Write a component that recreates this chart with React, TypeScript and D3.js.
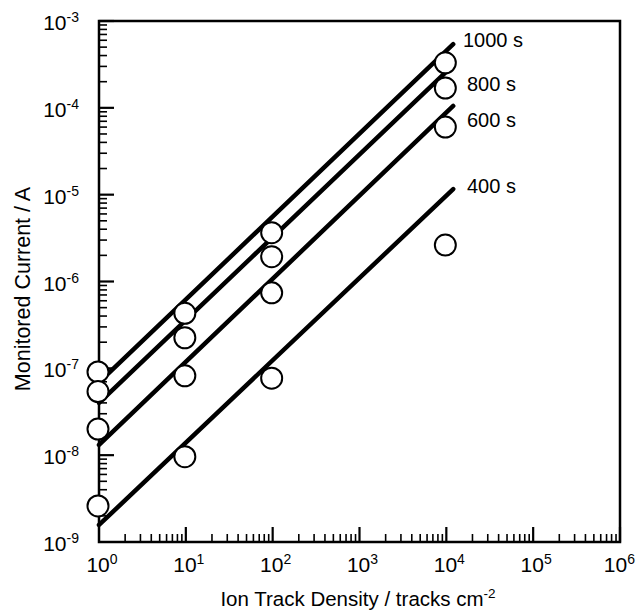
import React, { useRef, useEffect } from "react";
import * as d3 from "d3";

// measured points: ion track density (tracks cm-2) vs monitored current (A)
const densities = [1, 10, 100, 10000];
const series = ["1000 s", "800 s", "600 s", "400 s"];
const current1000 = [9.1e-8, 4.3e-7, 3.65e-6, 3.3e-4];
const current800 = [5.4e-8, 2.25e-7, 1.93e-6, 1.69e-4];
const current600 = [2.0e-8, 8.2e-8, 7.4e-7, 6.0e-5];
const current400 = [2.6e-9, 9.6e-9, 7.7e-8, 2.63e-6];

// fitted lines: current at start and end density
const fitDensity = [1, 1.2e4];
const fit1000 = [6.9e-8, 5.4e-4];
const fit800 = [4.0e-8, 3.1e-4];
const fit600 = [1.31e-8, 1.05e-4];
const fit400 = [1.57e-9, 1.16e-5];

const xTicks = [1, 10, 100, 1000, 10000, 100000, 1000000];
const yTicks = [1e-9, 1e-8, 1e-7, 1e-6, 1e-5, 1e-4, 1e-3];

const App = () => {
  const ref = useRef(null);

  useEffect(() => {
    d3.select(ref.current).selectAll("*").remove();

    const width = 637,
      height = 610;
    const left = 99,
      right = 620,
      top = 21,
      bottom = 542;
    const font = "'Liberation Sans', Arial, sans-serif";

    const svg = d3
      .select(ref.current)
      .append("svg")
      .attr("width", width)
      .attr("height", height)
      .style("display", "block");

    const x = d3.scaleLog().domain([1, 1e6]).range([left, right]);
    const y = d3.scaleLog().domain([1e-9, 1e-3]).range([bottom, top]);

    const isMajor = (v) => Math.abs(Math.log10(v) - Math.round(Math.log10(v))) < 1e-6;

    // minor + major ticks, drawn inward
    x.ticks().forEach((t) => {
      if (t === 1) return;
      const len = isMajor(t) ? 15 : 8;
      svg
        .append("line")
        .attr("x1", x(t))
        .attr("x2", x(t))
        .attr("y1", bottom)
        .attr("y2", bottom - len)
        .attr("stroke", "black")
        .attr("stroke-width", isMajor(t) ? 2.2 : 1.6);
    });
    y.ticks().forEach((t) => {
      if (t === 1e-9) return;
      const len = isMajor(t) ? 15 : 8;
      svg
        .append("line")
        .attr("x1", left)
        .attr("x2", left + len)
        .attr("y1", y(t))
        .attr("y2", y(t))
        .attr("stroke", "black")
        .attr("stroke-width", isMajor(t) ? 2.2 : 1.6);
    });

    // frame
    svg
      .append("rect")
      .attr("x", left)
      .attr("y", top)
      .attr("width", right - left)
      .attr("height", bottom - top)
      .attr("fill", "none")
      .attr("stroke", "black")
      .attr("stroke-width", 2.5);

    // tick labels
    xTicks.forEach((t, i) => {
      const last = i === xTicks.length - 1;
      const txt = svg
        .append("text")
        .attr("x", last ? width - 2 : x(t) + 3)
        .attr("y", bottom + 30)
        .attr("text-anchor", last ? "end" : "middle")
        .attr("font-family", font)
        .attr("font-size", 21)
        .attr("fill", "black");
      txt.append("tspan").text("10");
      txt
        .append("tspan")
        .attr("dy", -8)
        .attr("font-size", 14)
        .text(Math.round(Math.log10(t)));
    });
    yTicks.forEach((t) => {
      const txt = svg
        .append("text")
        .attr("x", left - 20)
        .attr("y", y(t) + 9)
        .attr("text-anchor", "end")
        .attr("font-family", font)
        .attr("font-size", 21)
        .attr("fill", "black");
      txt.append("tspan").text("10");
      txt
        .append("tspan")
        .attr("dy", -8)
        .attr("font-size", 14)
        .text(Math.round(Math.log10(t)));
    });

    // axis titles
    const xt = svg
      .append("text")
      .attr("x", 358)
      .attr("y", 606)
      .attr("text-anchor", "middle")
      .attr("font-family", font)
      .attr("font-size", 20.5)
      .attr("fill", "black");
    xt.append("tspan").text("Ion Track Density / tracks cm");
    xt.append("tspan").attr("dy", -8).attr("font-size", 13.5).text("-2");

    svg
      .append("text")
      .attr("transform", "translate(30,289) rotate(-90)")
      .attr("text-anchor", "middle")
      .attr("font-family", font)
      .attr("font-size", 21.5)
      .attr("fill", "black")
      .text("Monitored Current / A");

    // fitted lines
    const fits = [fit1000, fit800, fit600, fit400];
    const line = d3
      .line()
      .x((d) => x(d[0]))
      .y((d) => y(d[1]));
    fits.forEach((f) => {
      svg
        .append("path")
        .attr("d", line(fitDensity.map((n, i) => [n, f[i]])))
        .attr("fill", "none")
        .attr("stroke", "black")
        .attr("stroke-width", 4.5)
        .attr("stroke-linecap", "round");
    });

    // line labels
    const labelY = [47, 91, 127, 193];
    series.forEach((s, i) => {
      svg
        .append("text")
        .attr("x", i === 0 ? 463 : 467)
        .attr("y", labelY[i])
        .attr("font-family", font)
        .attr("font-size", 20)
        .attr("fill", "black")
        .text(s);
    });

    // data points
    const currents = [current1000, current800, current600, current400];
    currents.forEach((c) => {
      svg
        .selectAll(null)
        .data(c)
        .enter()
        .append("circle")
        .attr("cx", (d, i) => x(densities[i]) - 1)
        .attr("cy", (d) => y(d))
        .attr("r", 10.5)
        .attr("fill", "white")
        .attr("stroke", "black")
        .attr("stroke-width", 2);
    });
  }, []);

  return <div ref={ref} style={{ position: "absolute", left: 0, top: 0 }}></div>;
};

export default App;
